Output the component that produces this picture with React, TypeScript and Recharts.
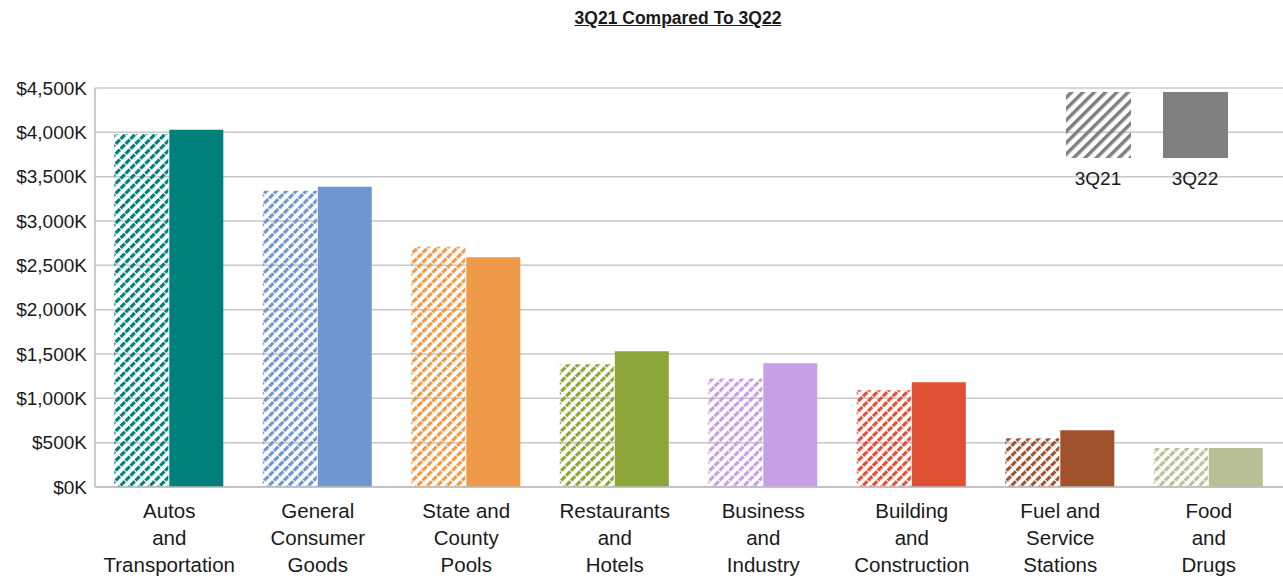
import React from 'react'
import { BarChart, Bar, XAxis, YAxis, CartesianGrid, Cell } from 'recharts'

const categories = [
  'Autos\nand\nTransportation',
  'General\nConsumer\nGoods',
  'State and\nCounty\nPools',
  'Restaurants\nand\nHotels',
  'Business\nand\nIndustry',
  'Building\nand\nConstruction',
  'Fuel and\nService\nStations',
  'Food\nand\nDrugs',
]
// values in $K
const q21 = [3980, 3340, 2710, 1385, 1225, 1090, 550, 440]
const q22 = [4030, 3385, 2590, 1530, 1395, 1180, 640, 440]
const seriesNames = ['3Q21', '3Q22']
const colors = ['#00807A', '#7096D1', '#EE9A48', '#8CA63A', '#C6A0E4', '#E05035', '#A0522D', '#BAC095']
const yTicks = [0, 500, 1000, 1500, 2000, 2500, 3000, 3500, 4000, 4500]

const data = categories.map((name, i) => ({ name, q21: q21[i], q22: q22[i] }))

const font = '"Liberation Sans", Arial, sans-serif'

function CategoryTick(props: any) {
  const { x, y, payload } = props
  const lines = String(payload.value).split('\n')
  return (
    <text x={x} y={y} textAnchor="middle" fill="#1a1a1a" fontSize={20.5} fontFamily={font}>
      {lines.map((l, i) => (
        <tspan key={i} x={x} dy={i === 0 ? 23 : 27}>{l}</tspan>
      ))}
    </text>
  )
}

function LegendBox() {
  return (
    <svg width={180} height={110} style={{ position: 'absolute', left: 1060, top: 90 }}>
      <defs>
        <pattern id="hatch-legend" patternUnits="userSpaceOnUse" width={8} height={8} patternTransform="rotate(45)">
          <rect x={0} y={0} width={3.5} height={8} fill="#808080" />
        </pattern>
      </defs>
      <rect x={6} y={2} width={65} height={66} fill="url(#hatch-legend)" />
      <rect x={103} y={2} width={65} height={66} fill="#808080" />
      <text x={38} y={95} textAnchor="middle" fontSize={19} fontFamily={font} fill="#1a1a1a">{seriesNames[0]}</text>
      <text x={135} y={95} textAnchor="middle" fontSize={19} fontFamily={font} fill="#1a1a1a">{seriesNames[1]}</text>
    </svg>
  )
}

export default function App() {
  return (
    <div style={{ position: 'absolute', left: 0, top: 0, width: 1283, height: 579, background: '#fff', overflow: 'hidden' }}>
      <div
        style={{
          position: 'absolute', left: 0, top: 8, width: 1356, textAlign: 'center',
          fontFamily: font, fontWeight: 'bold', fontSize: 17.5, textDecoration: 'underline', color: '#1a1a1a',
        }}
      >
        3Q21 Compared To 3Q22
      </div>
      <BarChart
        width={1283}
        height={579}
        data={data}
        margin={{ top: 88, right: 0, left: 0, bottom: 0 }}
        barCategoryGap="13%"
        barGap={1}
      >
        <defs>
          {colors.map((c, i) => (
            <pattern key={i} id={`hatch-${i}`} patternUnits="userSpaceOnUse" width={7} height={7} patternTransform="rotate(45)">
              <rect x={0} y={0} width={3.2} height={6} fill={c} />
            </pattern>
          ))}
        </defs>
        <CartesianGrid vertical={false} stroke="#c8c8c8" strokeWidth={1.5} />
        <XAxis
          dataKey="name"
          interval={0}
          height={92}
          tick={<CategoryTick />}
          tickLine={false}
          axisLine={{ stroke: '#bdbdbd', strokeWidth: 1.5 }}
        />
        <YAxis
          width={95}
          domain={[0, 4500]}
          ticks={yTicks}
          tickFormatter={(v: number) => `$${v.toLocaleString('en-US')}K`}
          tick={{ fontSize: 19, fill: '#1a1a1a', fontFamily: font }}
          tickLine={false}
          axisLine={{ stroke: '#bdbdbd', strokeWidth: 1.5 }}
        />
        <Bar dataKey="q21" name={seriesNames[0]} isAnimationActive={false}>
          {data.map((_, i) => (
            <Cell key={i} fill={`url(#hatch-${i})`} />
          ))}
        </Bar>
        <Bar dataKey="q22" name={seriesNames[1]} isAnimationActive={false}>
          {data.map((_, i) => (
            <Cell key={i} fill={colors[i]} />
          ))}
        </Bar>
      </BarChart>
      <LegendBox />
    </div>
  )
}
